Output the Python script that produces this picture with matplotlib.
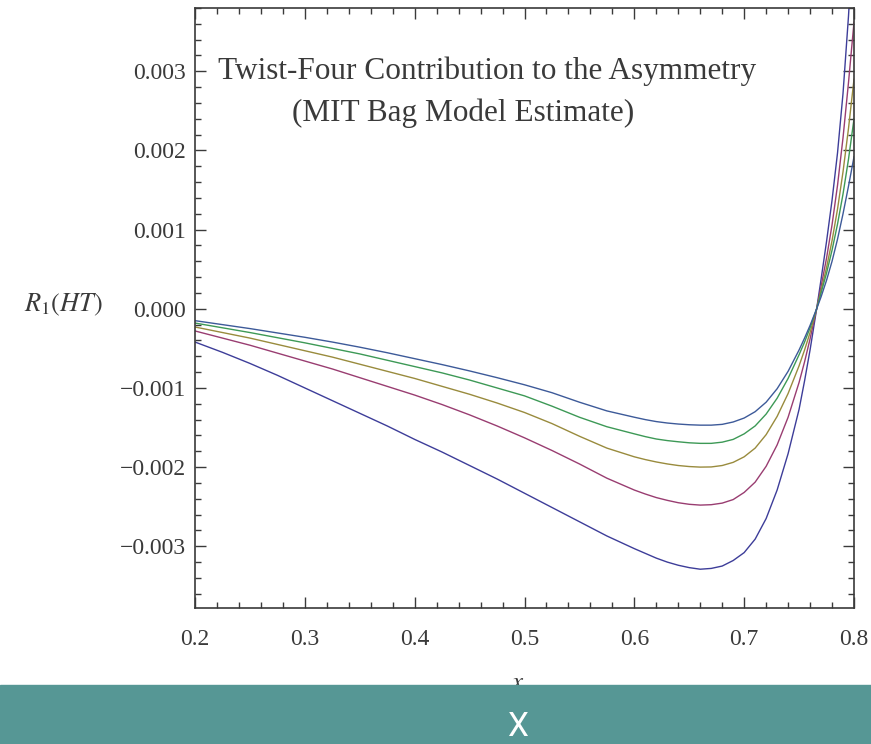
import numpy as np
import matplotlib
matplotlib.use("Agg")
import matplotlib.pyplot as plt
from matplotlib.ticker import MultipleLocator, FuncFormatter

# x grid (Bjorken x) and the five curves (units of 1e-5)
x = [0.200, 0.225, 0.250, 0.275, 0.300, 0.325, 0.350, 0.375, 0.400, 0.425,
     0.450, 0.475, 0.500, 0.525, 0.550, 0.575, 0.600, 0.610, 0.620, 0.630,
     0.640, 0.650, 0.660, 0.670, 0.680, 0.690, 0.700, 0.710, 0.720, 0.730,
     0.740, 0.750, 0.755, 0.760, 0.766, 0.770, 0.775, 0.780, 0.785, 0.790,
     0.795, 0.800]

r1_a = [-42, -55, -69, -84, -100, -116, -132, -148, -165, -181,
        -198, -215, -233, -251, -269, -287, -303, -309, -315, -320,
        -324, -327, -329, -328, -325, -318, -308, -291, -265, -229,
        -183, -127, -91, -52, 0, 37, 85, 137, 197, 272,
        370, 490]
r1_b = [-28, -37, -46, -56, -66, -76, -87, -98, -109, -121,
        -134, -148, -163, -179, -196, -214, -229, -234, -238.5, -242,
        -245, -247, -248, -247.5, -245.5, -241, -232, -219, -199, -172,
        -137, -93, -67, -38, 0, 28, 64, 106, 156, 216,
        286, 362]
r1_c = [-23, -30, -37, -45, -53, -61, -70, -79, -88, -98,
        -108, -119, -131, -145, -161, -176, -187, -190.5, -193.5, -196,
        -198, -199.3, -200, -199.8, -198, -194, -187, -176, -159, -136,
        -107, -72, -52, -30, 0, 23, 52, 86, 126, 173,
        228, 290]
r1_d = [-18, -24, -30, -36.5, -43, -50, -57, -65, -73, -81,
        -90, -100, -110, -123, -137, -149, -158, -161.5, -164.5, -166.5,
        -168, -169.3, -170, -170, -168.5, -165, -158, -148, -133, -113,
        -88, -58, -42, -24, 0, 20, 45, 74, 107, 145,
        189, 240]
r1_e = [-15, -20, -25, -30.5, -36, -42, -48.5, -55.5, -63, -70.5,
        -78.5, -87, -96, -106, -118, -129, -137, -140, -142.5, -144.3,
        -145.6, -146.5, -147, -147, -146, -143, -138, -130, -118, -101,
        -79, -52, -37, -21, 0, 15, 36, 60, 88, 120,
        155, 192]

curves = [r1_a, r1_b, r1_c, r1_d, r1_e]
colors = [(0.24, 0.24, 0.6), (0.6, 0.24, 0.443), (0.6, 0.547, 0.24),
          (0.24, 0.6, 0.337), (0.24, 0.353, 0.6)]

plt.rcParams['mathtext.fontset'] = 'stix'
serif = 'Liberation Serif'
ink = '#3a3a3a'

fig = plt.figure(figsize=(8.71, 7.44), dpi=100)
ax = fig.add_axes([195 / 871, 136 / 744, 659 / 871, 600 / 744])

for y, c in zip(curves, colors):
    ax.plot(x, np.array(y) * 1e-5, color=c, lw=1.0)

ax.set_xlim(0.2, 0.8)
ax.set_ylim(-0.00378, 0.00380)

ax.xaxis.set_major_locator(MultipleLocator(0.1))
ax.xaxis.set_minor_locator(MultipleLocator(0.02))
ax.yaxis.set_major_locator(MultipleLocator(0.001))
ax.yaxis.set_minor_locator(MultipleLocator(0.0002))
ax.xaxis.set_major_formatter(FuncFormatter(lambda v, p: f"{v:.1f}"))
ax.yaxis.set_major_formatter(
    FuncFormatter(lambda v, p: f"{v:.3f}".replace('-', '\u2212') if abs(v) > 1e-9 else "0.000"))

ax.tick_params(which='both', direction='in', top=True, right=True, color=ink, width=1.0)
ax.tick_params(which='major', length=8)
ax.tick_params(which='minor', length=4)
ax.tick_params(axis='x', which='major', pad=15, labelsize=17, labelcolor=ink)
ax.tick_params(axis='y', which='major', pad=6.5, labelsize=17, labelcolor=ink)
for lab in ax.get_xticklabels() + ax.get_yticklabels():
    lab.set_fontfamily(serif)
for s in ax.spines.values():
    s.set_color(ink)
    s.set_linewidth(1.2)

ax.text(0.035, 0.895, 'Twist-Four Contribution to the Asymmetry', transform=ax.transAxes,
        fontsize=22.5, family=serif, color=ink, va='center', ha='left')
ax.text(0.147, 0.825, '(MIT Bag Model Estimate)', transform=ax.transAxes,
        fontsize=22.5, family=serif, color=ink, va='center', ha='left')

fig.text(63 / 871, 1 - 305 / 744, r'$R_1(HT)$', fontsize=19, color=ink, ha='center', va='center')
# axis label "x", mostly hidden under the caption band as in the source
fig.text(518 / 871, 1 - 689 / 744, r'$x$', fontsize=18, color=ink, ha='center', va='baseline')

# teal caption band at the bottom
band = plt.Rectangle((0, 0), 1, 59 / 744, transform=fig.transFigure,
                     color='#569795', zorder=10)
fig.patches.append(band)
fig.text(517 / 871, 1 - 727 / 744, 'X', fontsize=24, family='Roboto', color='white',
         ha='center', va='center', zorder=11)

fig.savefig('out.png', dpi=100)
